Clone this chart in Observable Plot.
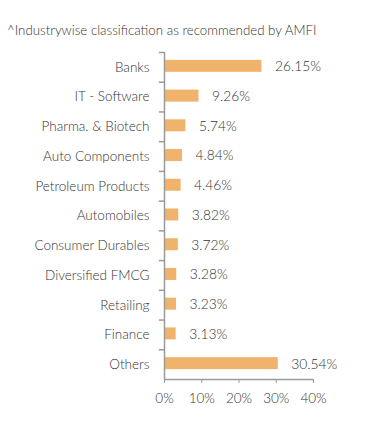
<!DOCTYPE html>
<html>
<head>
<meta charset="utf-8">
<script src="https://cdn.jsdelivr.net/npm/d3@7"></script>
<script src="https://cdn.jsdelivr.net/npm/@observablehq/plot@0.6"></script>
<style>
  html, body { margin: 0; padding: 0; overflow: hidden; background: #fff; font-family: Lato, "Open Sans", sans-serif; }
  #title { height: 42px; box-sizing: border-box; padding: 23px 0 0 7px; font-size: 13.3px; font-weight: 300; color: #333; line-height: 14px; white-space: nowrap; }
  #chart svg { display: block; }
</style>
</head>
<body>
<div id="title">^Industrywise classification as recommended by AMFI</div>
<div id="chart"></div>
<script>
const categories = ["Banks", "IT - Software", "Pharma. & Biotech", "Auto Components", "Petroleum Products", "Automobiles", "Consumer Durables", "Diversified FMCG", "Retailing", "Finance", "Others"];
const values = [26.15, 9.26, 5.74, 4.84, 4.46, 3.82, 3.72, 3.28, 3.23, 3.13, 30.54];
const xTicks = [0, 10, 20, 30, 40];

const data = categories.map((c, i) => ({category: c, value: values[i]}));

const W = 391, H = 393, mt = 10, mb = 56, ml = 164, mr = 78;
const band = (H - mt - mb) / categories.length;
const barH = 12;
const inset = (band - barH) / 2;
const axisColor = "#9a9a9a";

const chart = Plot.plot({
  width: W,
  height: H,
  marginTop: mt,
  marginBottom: mb,
  marginLeft: ml,
  marginRight: mr,
  style: {fontFamily: "Lato, 'Open Sans', sans-serif", fontSize: "13px", fontWeight: 300, color: "#333", background: "#fff", maxWidth: "none"},
  x: {domain: [0, 40], ticks: xTicks, tickFormat: d => d + "%", label: null, tickSize: 4, tickPadding: 10},
  y: {domain: categories, padding: 0, round: false, label: null, tickSize: 0, tickPadding: 15},
  marks: [
    Plot.barX(data, {y: "category", x: "value", fill: "#F0B36B", insetTop: inset - 1, insetBottom: inset + 1}),
    Plot.text(data, {y: "category", x: "value", text: d => d.value.toFixed(2) + "%", textAnchor: "start", dx: 13, dy: -0.5, fill: "#333", fontSize: 13.8, fontWeight: 300}),
    Plot.ruleY(data, {y: "category", x1: -1.4, x2: 0, dy: -band / 2, stroke: axisColor, strokeWidth: 1.5}),
    Plot.ruleX([0], {stroke: axisColor, strokeWidth: 1.5}),
    Plot.ruleY([categories[categories.length - 1]], {x1: 0, x2: 40, dy: band / 2, stroke: axisColor, strokeWidth: 1.5}),
    Plot.axisX({ticks: xTicks, tickFormat: d => d + "%", tickSize: 4, tickPadding: 10, stroke: axisColor, fontSize: 13.5, fontWeight: 300, label: null}),
    Plot.axisY({tickSize: 0, tickPadding: 15, fontSize: 13.5, fontWeight: 300, label: null})
  ]
});
document.getElementById("chart").appendChild(chart);
</script>
</body>
</html>
